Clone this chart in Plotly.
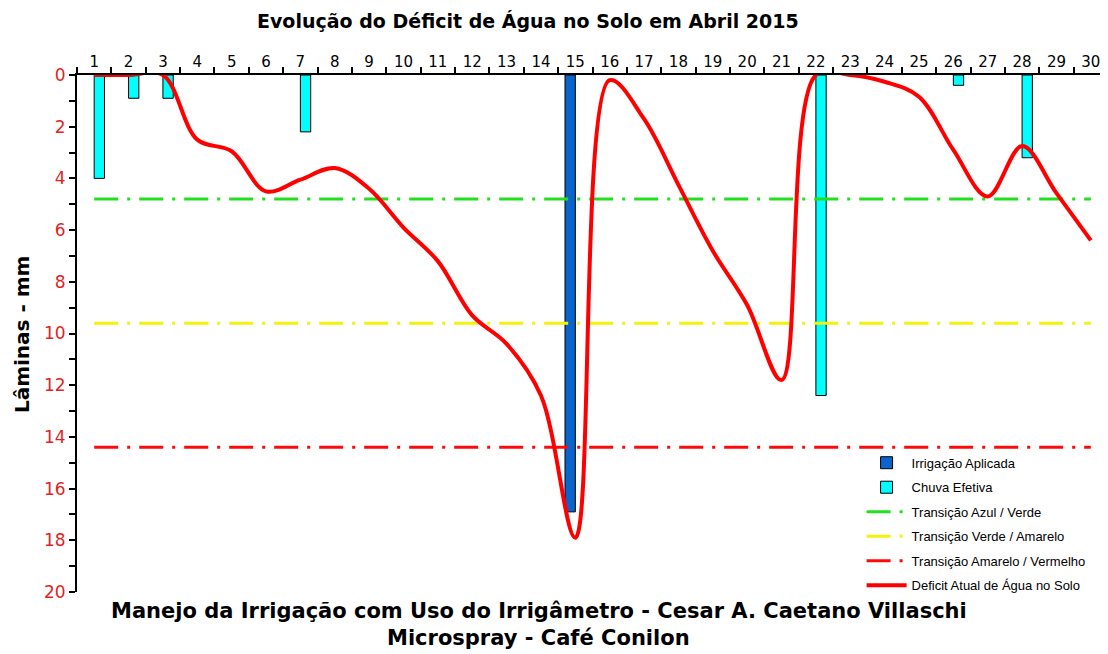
import plotly.graph_objects as go

days = list(range(1, 31))
day_labels = [str(d) for d in days]

# Deficit atual de água no solo (mm) per day
deficit = [0, 0, 0, 2.5, 2.95, 4.5, 4.05, 3.6, 4.4, 5.9,
           7.2, 9.3, 10.4, 12.4, 17.9, 0.2, 1.7, 4.25, 6.8, 8.9,
           11.8, 0, 0, 0.26, 0.84, 2.9, 4.7, 2.75, 4.57, 6.4]

# Chuva efetiva (mm)
chuva_days = [1, 2, 3, 7, 22, 26, 28]
chuva_vals = [4.0, 0.9, 0.9, 2.2, 12.4, 0.4, 3.2]

# Irrigação aplicada (mm)
irrig_days = [15]
irrig_vals = [16.9]

# Transition thresholds (mm)
t_azul_verde = 4.8
t_verde_amarelo = 9.6
t_amarelo_vermelho = 14.4

y_ticks = list(range(0, 21))
y_ticktext = [str(v) if v % 2 == 0 else "" for v in y_ticks]

FONT = "Arial, Liberation Sans, sans-serif"
WIDE = "DejaVu Sans, sans-serif"
DASH = "24px,9px,3px,9px"

fig = go.Figure()

fig.add_trace(go.Bar(
    x=irrig_days, y=irrig_vals, name="Irrigação Aplicada",
    width=0.3, offset=-0.3, base=0,
    marker=dict(color="#0A64CC", line=dict(color="#000000", width=1)),
    legendgroup="g1",
))
fig.add_trace(go.Bar(
    x=chuva_days, y=chuva_vals, name="Chuva Efetiva",
    width=0.3, offset=0, base=0,
    marker=dict(color="#00FFFF", line=dict(color="#000000", width=1)),
    legendgroup="g2",
))
fig.add_trace(go.Scatter(
    x=days, y=[t_azul_verde] * len(days), name="Transição Azul / Verde",
    mode="lines", line=dict(color="#22E01E", width=3, dash=DASH),
    legendgroup="g3",
))
fig.add_trace(go.Scatter(
    x=days, y=[t_verde_amarelo] * len(days), name="Transição Verde / Amarelo",
    mode="lines", line=dict(color="#F2F20C", width=3, dash=DASH),
    legendgroup="g4",
))
fig.add_trace(go.Scatter(
    x=days, y=[t_amarelo_vermelho] * len(days), name="Transição Amarelo / Vermelho",
    mode="lines", line=dict(color="#FF0A0A", width=3, dash=DASH),
    legendgroup="g5",
))
fig.add_trace(go.Scatter(
    x=days, y=deficit, name="Deficit Atual de Água no Solo",
    mode="lines", line=dict(color="#FF0000", width=4, shape="spline", smoothing=1.0),
    legendgroup="g6",
))

fig.update_layout(
    width=1100, height=646,
    margin=dict(l=69, r=0, t=67, b=62),
    paper_bgcolor="white", plot_bgcolor="white",
    barmode="overlay",
    font=dict(family=FONT, color="#000000"),
    showlegend=True,
    legend=dict(x=0.761, y=0.279, xanchor="left", yanchor="top",
                bgcolor="rgba(0,0,0,0)", font=dict(size=13, family=FONT),
                tracegroupgap=4.6, itemwidth=40),
    xaxis=dict(
        side="top", range=[0.5, 30.5],
        tickmode="array", tickvals=days, ticktext=day_labels,
        ticks="", tickfont=dict(size=15, family=WIDE, color="#000000"),
        showline=True, linecolor="#000000", linewidth=2,
        showgrid=False, zeroline=False,
        minor=dict(tick0=0.5, dtick=1, ticks="outside", ticklen=6,
                   tickwidth=2, tickcolor="#000000", showgrid=False),
    ),
    yaxis=dict(
        range=[20, 0], tickmode="array", tickvals=y_ticks, ticktext=y_ticktext,
        ticks="outside", ticklen=6, tickwidth=2, tickcolor="#000000",
        tickfont=dict(size=17, family=WIDE, color="#E31E24"),
        showline=True, linecolor="#000000", linewidth=2,
        showgrid=False, zeroline=False,
    ),
    annotations=[
        dict(text="<b>Evolução do Déficit de Água no Solo em Abril 2015</b>",
             x=0.4374, y=1.104, xref="paper", yref="paper", showarrow=False,
             font=dict(size=19, family=WIDE), xanchor="center", yanchor="middle"),
        dict(text="<b>Lâminas - mm</b>", x=-0.0533, y=0.497, xref="paper", yref="paper",
             textangle=-90, showarrow=False, font=dict(size=20, family=WIDE),
             xanchor="center", yanchor="middle"),
        dict(text="<b>Manejo da Irrigação com Uso do Irrigâmetro - Cesar A. Caetano Villaschi</b>",
             x=0.448, y=-0.037, xref="paper", yref="paper", showarrow=False,
             font=dict(size=21, family=WIDE), xanchor="center", yanchor="middle"),
        dict(text="<b>Microspray - Café Conilon</b>",
             x=0.448, y=-0.089, xref="paper", yref="paper", showarrow=False,
             font=dict(size=21, family=WIDE), xanchor="center", yanchor="middle"),
    ],
)

fig.write_html("out.html")
